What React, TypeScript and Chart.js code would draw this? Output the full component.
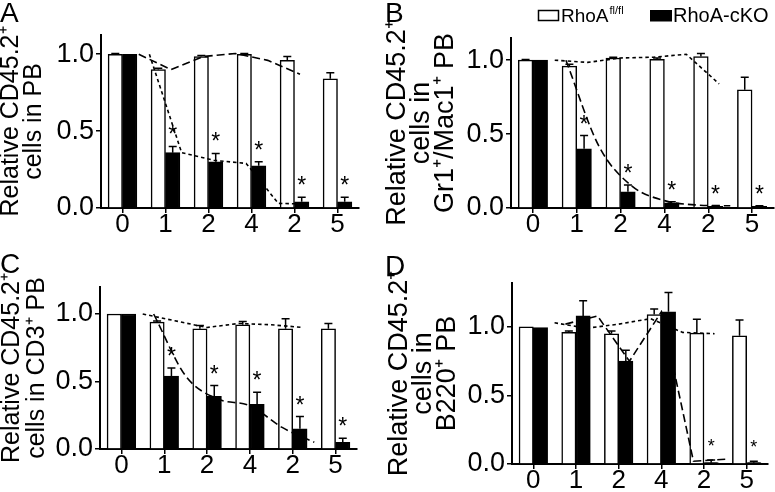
import React, { useEffect, useRef } from 'react';
import { Chart, registerables } from 'chart.js';

Chart.register(...registerables);

// ---------- data ----------
const categories = ['0', '1', '2', '4', '2', '5'];
const yTickValues = [0, 0.5, 1.0];

// Panel A – PB
const aWhite = [1.0, 0.9, 0.985, 1.0, 0.96, 0.84];
const aWhiteErr = [0.004, 0.008, 0.006, 0.004, 0.025, 0.04];
const aBlack = [1.0, 0.36, 0.3, 0.275, 0.04, 0.04];
const aBlackErr = [0, 0.04, 0.055, 0.025, 0.03, 0.03];
const aSig = [0, 1, 1, 1, 1, 1];
const aWhiteFit = [1.0, 0.9, 0.985, 1.005, 0.96, 0.87];
const aBlackFit = [1.0, 0.36, 0.31, 0.29, 0.03, 0.025];

// Panel B – Gr1+/Mac1+
const bWhite = [1.0, 0.96, 1.015, 1.005, 1.025, 0.8];
const bWhiteErr = [0.005, 0.012, 0.005, 0.01, 0.02, 0.085];
const bBlack = [1.0, 0.4, 0.11, 0.035, 0.012, 0.012];
const bBlackErr = [0, 0.09, 0.045, 0.008, 0.004, 0.004];
const bSig = [0, 1, 1, 1, 1, 1];
const bWhiteFit = [1.0, 0.985, 1.015, 1.02, 1.04, 0.84];
const bBlackFit = [1.0, 0.42, 0.15, 0.05, 0.02, 0.015];

// Panel C – CD3+
const cWhite = [1.0, 0.94, 0.89, 0.92, 0.89, 0.89];
const cWhiteErr = [0, 0.008, 0.025, 0.025, 0.075, 0.04];
const cBlack = [1.0, 0.54, 0.39, 0.33, 0.15, 0.05];
const cBlackErr = [0, 0.06, 0.08, 0.09, 0.09, 0.03];
const cSig = [0, 1, 1, 1, 1, 1];
const cWhiteFit = [1.0, 0.95, 0.9, 0.93, 0.92, 0.9];
const cBlackFit = [1.0, 0.54, 0.37, 0.32, 0.16, 0.05];

// Panel D – B220+
const dWhite = [1.0, 0.96, 0.95, 1.09, 0.955, 0.935];
const dWhiteErr = [0, 0.01, 0.02, 0.04, 0.1, 0.115];
const dBlack = [0.995, 1.08, 0.75, 1.11, 0.01, 0.01];
const dBlackErr = [0, 0.11, 0.08, 0.14, 0.02, 0.01];
const dSig = [0, 0, 0, 0, 1, 1];
const dWhiteFit = [1.03, 0.99, 1.02, 1.06, 0.96, 0.95];
const dBlackFit = [1.02, 1.08, 0.75, 1.11, 0.02, 0.035];

const legendWhite = 'RhoA';
const legendWhiteSup = 'fl/fl';
const legendBlack = 'RhoA-cKO';

// ---------- styling / layout ----------
const FONT = "'Liberation Sans', Arial, Helvetica, sans-serif";
const LONG_DASH = [8, 4];
const SHORT_DASH = [3.5, 3];
const BAR_FRACTION = 0.335; // one bar's width as a share of a category slot

type Panel = {
  letter: string;
  letterBaseline: number;
  title: string[];
  titleSize: number;
  titleLineHeight: number;
  titlePad: number;
  white: number[];
  whiteErr: number[];
  black: number[];
  blackErr: number[];
  sig: number[];
  whiteFit: number[];
  blackFit: number[];
  whiteDash: number[];
  blackDash: number[];
  whiteOffset: number;
  blackOffset: number;
  smoothBlack: boolean;
  yMax: number;
  box: { x: number; y: number; w: number; h: number };
  area: { left: number; right: number; top: number; bottom: number };
  starSize: number;
  starGap: number;
  legend: boolean;
};

const panels: Panel[] = [
  {
    letter: 'A', letterBaseline: 22,
    title: ['Relative CD45.2\u207A', 'cells in PB'], titleSize: 25, titleLineHeight: 0.92, titlePad: 0,
    white: aWhite, whiteErr: aWhiteErr, black: aBlack, blackErr: aBlackErr, sig: aSig,
    whiteFit: aWhiteFit, blackFit: aBlackFit, whiteDash: LONG_DASH, blackDash: SHORT_DASH,
    whiteOffset: -0.33, blackOffset: 0, smoothBlack: false,
    yMax: 1.125,
    box: { x: 0, y: 0, w: 385, h: 240 },
    area: { left: 101, right: 359, top: 35, bottom: 208 },
    starSize: 23, starGap: 4, legend: false,
  },
  {
    letter: 'B', letterBaseline: 22,
    title: ['Relative CD45.2\u207A', 'cells in', 'Gr1\u207A/Mac1\u207A PB'], titleSize: 27, titleLineHeight: 0.9, titlePad: 0,
    white: bWhite, whiteErr: bWhiteErr, black: bBlack, blackErr: bBlackErr, sig: bSig,
    whiteFit: bWhiteFit, blackFit: bBlackFit, whiteDash: SHORT_DASH, blackDash: LONG_DASH,
    whiteOffset: -0.17, blackOffset: 0.17, smoothBlack: true,
    yMax: 1.15,
    box: { x: 385, y: 0, w: 390, h: 240 },
    area: { left: 126, right: 389, top: 38, bottom: 208 },
    starSize: 23, starGap: 4, legend: true,
  },
  {
    letter: 'C', letterBaseline: 33,
    title: ['Relative CD45.2\u207A', 'cells in CD3\u207A PB'], titleSize: 25, titleLineHeight: 1.0, titlePad: 0,
    white: cWhite, whiteErr: cWhiteErr, black: cBlack, blackErr: cBlackErr, sig: cSig,
    whiteFit: cWhiteFit, blackFit: cBlackFit, whiteDash: SHORT_DASH, blackDash: LONG_DASH,
    whiteOffset: -0.17, blackOffset: 0.17, smoothBlack: true,
    yMax: 1.2,
    box: { x: 0, y: 240, w: 385, h: 252 },
    area: { left: 100, right: 357, top: 47, bottom: 209 },
    starSize: 23, starGap: 4, legend: false,
  },
  {
    letter: 'D', letterBaseline: 35,
    title: ['Relative CD45.2\u207A', 'cells in', 'B220\u207A PB'], titleSize: 27, titleLineHeight: 0.9, titlePad: 2,
    white: dWhite, whiteErr: dWhiteErr, black: dBlack, blackErr: dBlackErr, sig: dSig,
    whiteFit: dWhiteFit, blackFit: dBlackFit, whiteDash: SHORT_DASH, blackDash: LONG_DASH,
    whiteOffset: -0.17, blackOffset: 0.17, smoothBlack: false,
    yMax: 1.32,
    box: { x: 385, y: 240, w: 390, h: 252 },
    area: { left: 127, right: 383, top: 43, bottom: 224 },
    starSize: 18, starGap: 8, legend: false,
  },
];

function decorPlugin(p: Panel) {
  return {
    id: 'decor' + p.letter,
    afterDatasetsDraw(chart: any) {
      const ctx: CanvasRenderingContext2D = chart.ctx;
      const y = chart.scales.y;
      ctx.save();
      ctx.strokeStyle = '#000';
      ctx.fillStyle = '#000';
      ctx.lineWidth = 1.5;
      const drawErr = (dsIndex: number, vals: number[], errs: number[], sig: number[] | null) => {
        const meta = chart.getDatasetMeta(dsIndex);
        meta.data.forEach((el: any, i: number) => {
          const x = el.x;
          const yTop = y.getPixelForValue(vals[i]);
          const yE = y.getPixelForValue(vals[i] + errs[i]);
          if (errs[i] > 0) {
            ctx.beginPath();
            ctx.moveTo(x, yTop);
            ctx.lineTo(x, yE);
            ctx.moveTo(x - 4, yE);
            ctx.lineTo(x + 4, yE);
            ctx.stroke();
          }
          if (sig && sig[i]) {
            ctx.font = `${p.starSize}px ${FONT}`;
            ctx.textAlign = 'center';
            ctx.textBaseline = 'alphabetic';
            ctx.fillText('*', x, yE - p.starGap);
          }
        });
      };
      drawErr(2, p.white, p.whiteErr, null);
      drawErr(3, p.black, p.blackErr, p.sig);
      ctx.restore();
    },
    afterDraw(chart: any) {
      const ctx: CanvasRenderingContext2D = chart.ctx;
      ctx.save();
      ctx.fillStyle = '#000';
      ctx.textAlign = 'left';
      ctx.textBaseline = 'alphabetic';
      ctx.font = `28px ${FONT}`;
      ctx.fillText(p.letter, 0, p.letterBaseline);
      if (p.legend) {
        ctx.lineWidth = 1.5;
        ctx.strokeStyle = '#000';
        ctx.fillStyle = '#fff';
        ctx.fillRect(153.5, 10.5, 20, 10);
        ctx.strokeRect(153.5, 10.5, 20, 10);
        ctx.fillStyle = '#000';
        ctx.font = `19px ${FONT}`;
        ctx.fillText(legendWhite, 176, 21.5);
        const w = ctx.measureText(legendWhite).width;
        ctx.font = `11px ${FONT}`;
        ctx.fillText(legendWhiteSup, 176 + w + 1, 14);
        ctx.fillRect(265, 10, 22, 11.5);
        ctx.font = `20px ${FONT}`;
        ctx.fillText(legendBlack, 288, 21.5);
      }
      ctx.restore();
    },
  };
}

function buildConfig(p: Panel): any {
  const { box, area } = p;
  const barWidth = ((area.right - area.left) / categories.length) * BAR_FRACTION;
  const lineDs = (vals: number[], off: number, dash: number[], smooth: boolean) => ({
    type: 'line',
    data: vals.map((v, i) => ({ x: i + off, y: v })),
    xAxisID: 'xl',
    yAxisID: 'y',
    borderColor: '#000',
    borderWidth: 1.6,
    borderDash: dash,
    pointRadius: 0,
    fill: false,
    order: 0,
    cubicInterpolationMode: smooth ? 'monotone' : 'default',
    tension: 0,
  });
  const barDs = (vals: number[], fillColor: string) => ({
    type: 'bar',
    data: vals,
    xAxisID: 'x',
    yAxisID: 'y',
    backgroundColor: fillColor,
    borderColor: '#000',
    borderWidth: 1.5,
    borderSkipped: 'bottom',
    barThickness: barWidth,
    order: 1,
  });
  return {
    type: 'bar',
    data: {
      labels: categories,
      datasets: [
        lineDs(p.whiteFit, p.whiteOffset, p.whiteDash, false),
        lineDs(p.blackFit, p.blackOffset, p.blackDash, p.smoothBlack),
        barDs(p.white, '#ffffff'),
        barDs(p.black, '#000000'),
      ],
    },
    options: {
      animation: false,
      responsive: false,
      maintainAspectRatio: false,
      events: [],
      layout: { padding: { top: area.top, right: box.w - area.right, left: 0, bottom: 0 } },
      plugins: { legend: { display: false }, tooltip: { enabled: false }, title: { display: false } },
      scales: {
        x: {
          type: 'category',
          offset: true,
          grid: { display: true, drawOnChartArea: false, offset: false, tickLength: 5, color: '#000', lineWidth: 1.5 },
          border: { display: true, color: '#000', width: 2 },
          ticks: { color: '#000', font: { family: FONT, size: 26 }, padding: -4, maxRotation: 0, autoSkip: false },
          afterFit: (s: any) => { s.height = box.h - area.bottom; },
        },
        xl: { type: 'linear', min: -0.5, max: 5.5, display: false },
        y: {
          type: 'linear',
          min: 0,
          max: p.yMax,
          afterBuildTicks: (s: any) => {
            s.ticks = yTickValues.map((v) => ({ value: v }));
          },
          grid: { display: true, drawOnChartArea: false, tickLength: 5, color: '#000', lineWidth: 1.5 },
          border: { display: true, color: '#000', width: 2 },
          ticks: {
            color: '#000',
            font: { family: FONT, size: 27 },
            padding: 2,
            callback: (v: any) => Number(v).toFixed(1),
          },
          title: {
            display: true,
            text: p.title,
            color: '#000',
            font: { family: FONT, size: p.titleSize, lineHeight: p.titleLineHeight },
            padding: { top: p.titlePad, bottom: 0 },
          },
          afterFit: (s: any) => { s.width = area.left; },
        },
      },
    },
    plugins: [decorPlugin(p)],
  };
}

function PanelChart({ p }: { p: Panel }) {
  const ref = useRef<HTMLCanvasElement>(null);
  useEffect(() => {
    const chart = new Chart(ref.current as HTMLCanvasElement, buildConfig(p));
    return () => chart.destroy();
  }, [p]);
  return (
    <canvas
      ref={ref}
      width={p.box.w}
      height={p.box.h}
      style={{ position: 'absolute', left: p.box.x, top: p.box.y, width: p.box.w, height: p.box.h }}
    />
  );
}

export default function App() {
  return (
    <div style={{ position: 'fixed', left: 0, top: 0, width: 775, height: 492, background: '#fff' }}>
      {panels.map((p) => (
        <PanelChart key={p.letter} p={p} />
      ))}
    </div>
  );
}
